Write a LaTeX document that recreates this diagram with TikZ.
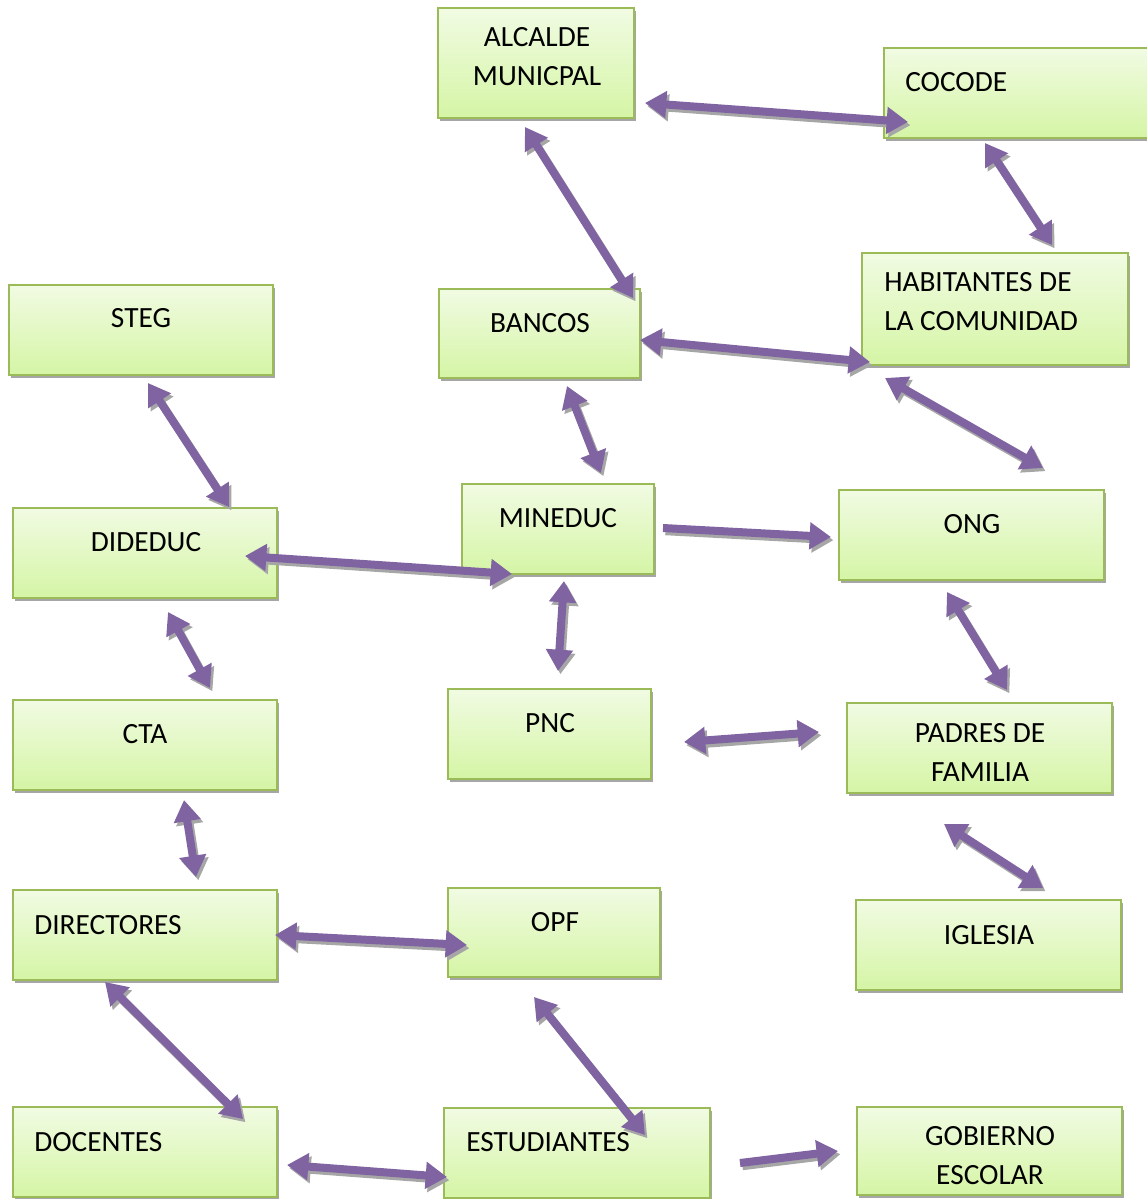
\documentclass[tikz,border=0pt]{standalone}
\usepackage{fontspec}
\setmainfont{Carlito}
\usetikzlibrary{arrows.meta,shadows}
\definecolor{boxtop}{HTML}{F1FBE3}
\definecolor{boxbot}{HTML}{D5F5A5}
\definecolor{boxline}{HTML}{9BBB59}
\definecolor{arrc}{HTML}{8064A2}
\definecolor{arrsh}{HTML}{A6A6A6}
\newcommand\bx[5]{\node[box, minimum width={(#4-#2)*0.75pt}, minimum height={(#5-#3)*0.75pt}] (#1) at ({(#2+#4)/2},{(#3+#5)/2}) {};}
\newcommand\conn[3]{%
  \draw[arrsh, shaft, #3, transform canvas={shift={(1.8pt,-2.4pt)}}] (#1) -- (#2);
  \draw[arrc, shaft, #3] (#1) -- (#2);}
\begin{document}
\begin{tikzpicture}[x=0.75pt,y=-0.75pt,
  box/.style={draw=boxline, line width=1.2pt, top color=boxtop, bottom color=boxbot,
    inner sep=0pt, outer sep=0pt,
    drop shadow={shadow xshift=1.5pt, shadow yshift=-2.5pt, fill=arrsh, opacity=1}},
  lbl/.style={font=\fontsize{22}{29.25}\selectfont, inner sep=0pt},
  shaft/.style={line width=6pt},
  dbl/.style={{Triangle[length=16pt,width=19.5pt]}-{Triangle[length=16pt,width=19.5pt]}},
  sgl/.style={-{Triangle[length=16pt,width=19.5pt]}}]
\useasboundingbox (0,0) rectangle (1146,1199);
% boxes
\bx{alcalde}{438}{8}{634}{118}
\bx{cocode}{884}{48}{1160}{138}
\bx{habit}{862}{253}{1128}{365}
\bx{steg}{9}{285}{273}{375}
\bx{bancos}{439}{289}{640}{378}
\bx{dideduc}{13}{508}{277}{598}
\bx{mineduc}{462}{484}{654}{574}
\bx{ong}{839}{490}{1104}{580}
\bx{cta}{13}{700}{277}{790}
\bx{pnc}{448}{689}{651}{779}
\bx{padres}{847}{703}{1112}{793}
\bx{directores}{13}{890}{277}{980}
\bx{opf}{448}{888}{660}{977}
\bx{iglesia}{856}{900}{1121}{990}
\bx{docentes}{13}{1107}{277}{1197}
\bx{estudiantes}{444}{1108}{710}{1198}
\bx{gobierno}{857}{1107}{1122}{1195}
% texts
\node[lbl, align=center] (alcaldeT) at (537,56.5) {ALCALDE\\MUNICPAL};
\node[lbl, anchor=west] (cocodeT) at (905,82) {COCODE};
\node[lbl, anchor=west, align=left] (habitT) at (884,301.5) {HABITANTES DE\\LA COMUNIDAD};
\node[lbl] (stegT) at (141,318) {STEG};
\node[lbl] (bancosT) at (540,323) {BANCOS};
\node[lbl] (dideducT) at (146,542) {DIDEDUC};
\node[lbl] (mineducT) at (558,518) {MINEDUC};
\node[lbl] (ongT) at (972,524) {ONG};
\node[lbl] (ctaT) at (145,734) {CTA};
\node[lbl] (pncT) at (550,723) {PNC};
\node[lbl, align=center] (padresT) at (980,752) {PADRES DE\\FAMILIA};
\node[lbl, anchor=west] (directoresT) at (34,925) {DIRECTORES};
\node[lbl] (opfT) at (555,922) {OPF};
\node[lbl] (iglesiaT) at (989,935) {IGLESIA};
\node[lbl, anchor=west] (docentesT) at (34,1142) {DOCENTES};
\node[lbl, anchor=west] (estudiantesT) at (466,1142) {ESTUDIANTES};
\node[lbl, align=center] (gobiernoT) at (990,1155.5) {GOBIERNO\\ESCOLAR};
% connector end points
\coordinate (a1s) at (645,103);  \coordinate (a1e) at (908,122);
\coordinate (a2s) at (525,127);  \coordinate (a2e) at (633,298);
\coordinate (a3s) at (985,143);  \coordinate (a3e) at (1052,245);
\coordinate (a4s) at (640,340);  \coordinate (a4e) at (870,362);
\coordinate (a5s) at (885,378);  \coordinate (a5e) at (1043,468);
\coordinate (a6s) at (148,383);  \coordinate (a6e) at (229,507);
\coordinate (a7s) at (567,386);  \coordinate (a7e) at (601,473);
\coordinate (a8s) at (245,556);  \coordinate (a8e) at (512,574);
\coordinate (a9s) at (663,528);  \coordinate (a9e) at (831,537);
\coordinate (a10s) at (564,581); \coordinate (a10e) at (558,671);
\coordinate (a11s) at (168,612); \coordinate (a11e) at (210,688);
\coordinate (a12s) at (947,592); \coordinate (a12e) at (1007,690);
\coordinate (a13s) at (684,742); \coordinate (a13e) at (819,732);
\coordinate (a14s) at (184,800); \coordinate (a14e) at (196,877);
\coordinate (a15s) at (944,824); \coordinate (a15e) at (1043,888);
\coordinate (a16s) at (275,935); \coordinate (a16e) at (467,945);
\coordinate (a17s) at (105,982); \coordinate (a17e) at (243,1119);
\coordinate (a18s) at (534,997); \coordinate (a18e) at (645,1135);
\coordinate (a19s) at (287,1165); \coordinate (a19e) at (447,1177);
\coordinate (a20s) at (740,1163); \coordinate (a20e) at (838,1151);
% connectors
\conn{a1s}{a1e}{dbl}
\conn{a2s}{a2e}{dbl}
\conn{a3s}{a3e}{dbl}
\conn{a4s}{a4e}{dbl}
\conn{a5s}{a5e}{dbl}
\conn{a6s}{a6e}{dbl}
\conn{a7s}{a7e}{dbl}
\conn{a8s}{a8e}{dbl}
\conn{a9s}{a9e}{sgl}
\conn{a10s}{a10e}{dbl}
\conn{a11s}{a11e}{dbl}
\conn{a12s}{a12e}{dbl}
\conn{a13s}{a13e}{dbl}
\conn{a14s}{a14e}{dbl}
\conn{a15s}{a15e}{dbl}
\conn{a16s}{a16e}{dbl}
\conn{a17s}{a17e}{dbl}
\conn{a18s}{a18e}{dbl}
\conn{a19s}{a19e}{dbl}
\conn{a20s}{a20e}{sgl}
\end{tikzpicture}
\end{document}
